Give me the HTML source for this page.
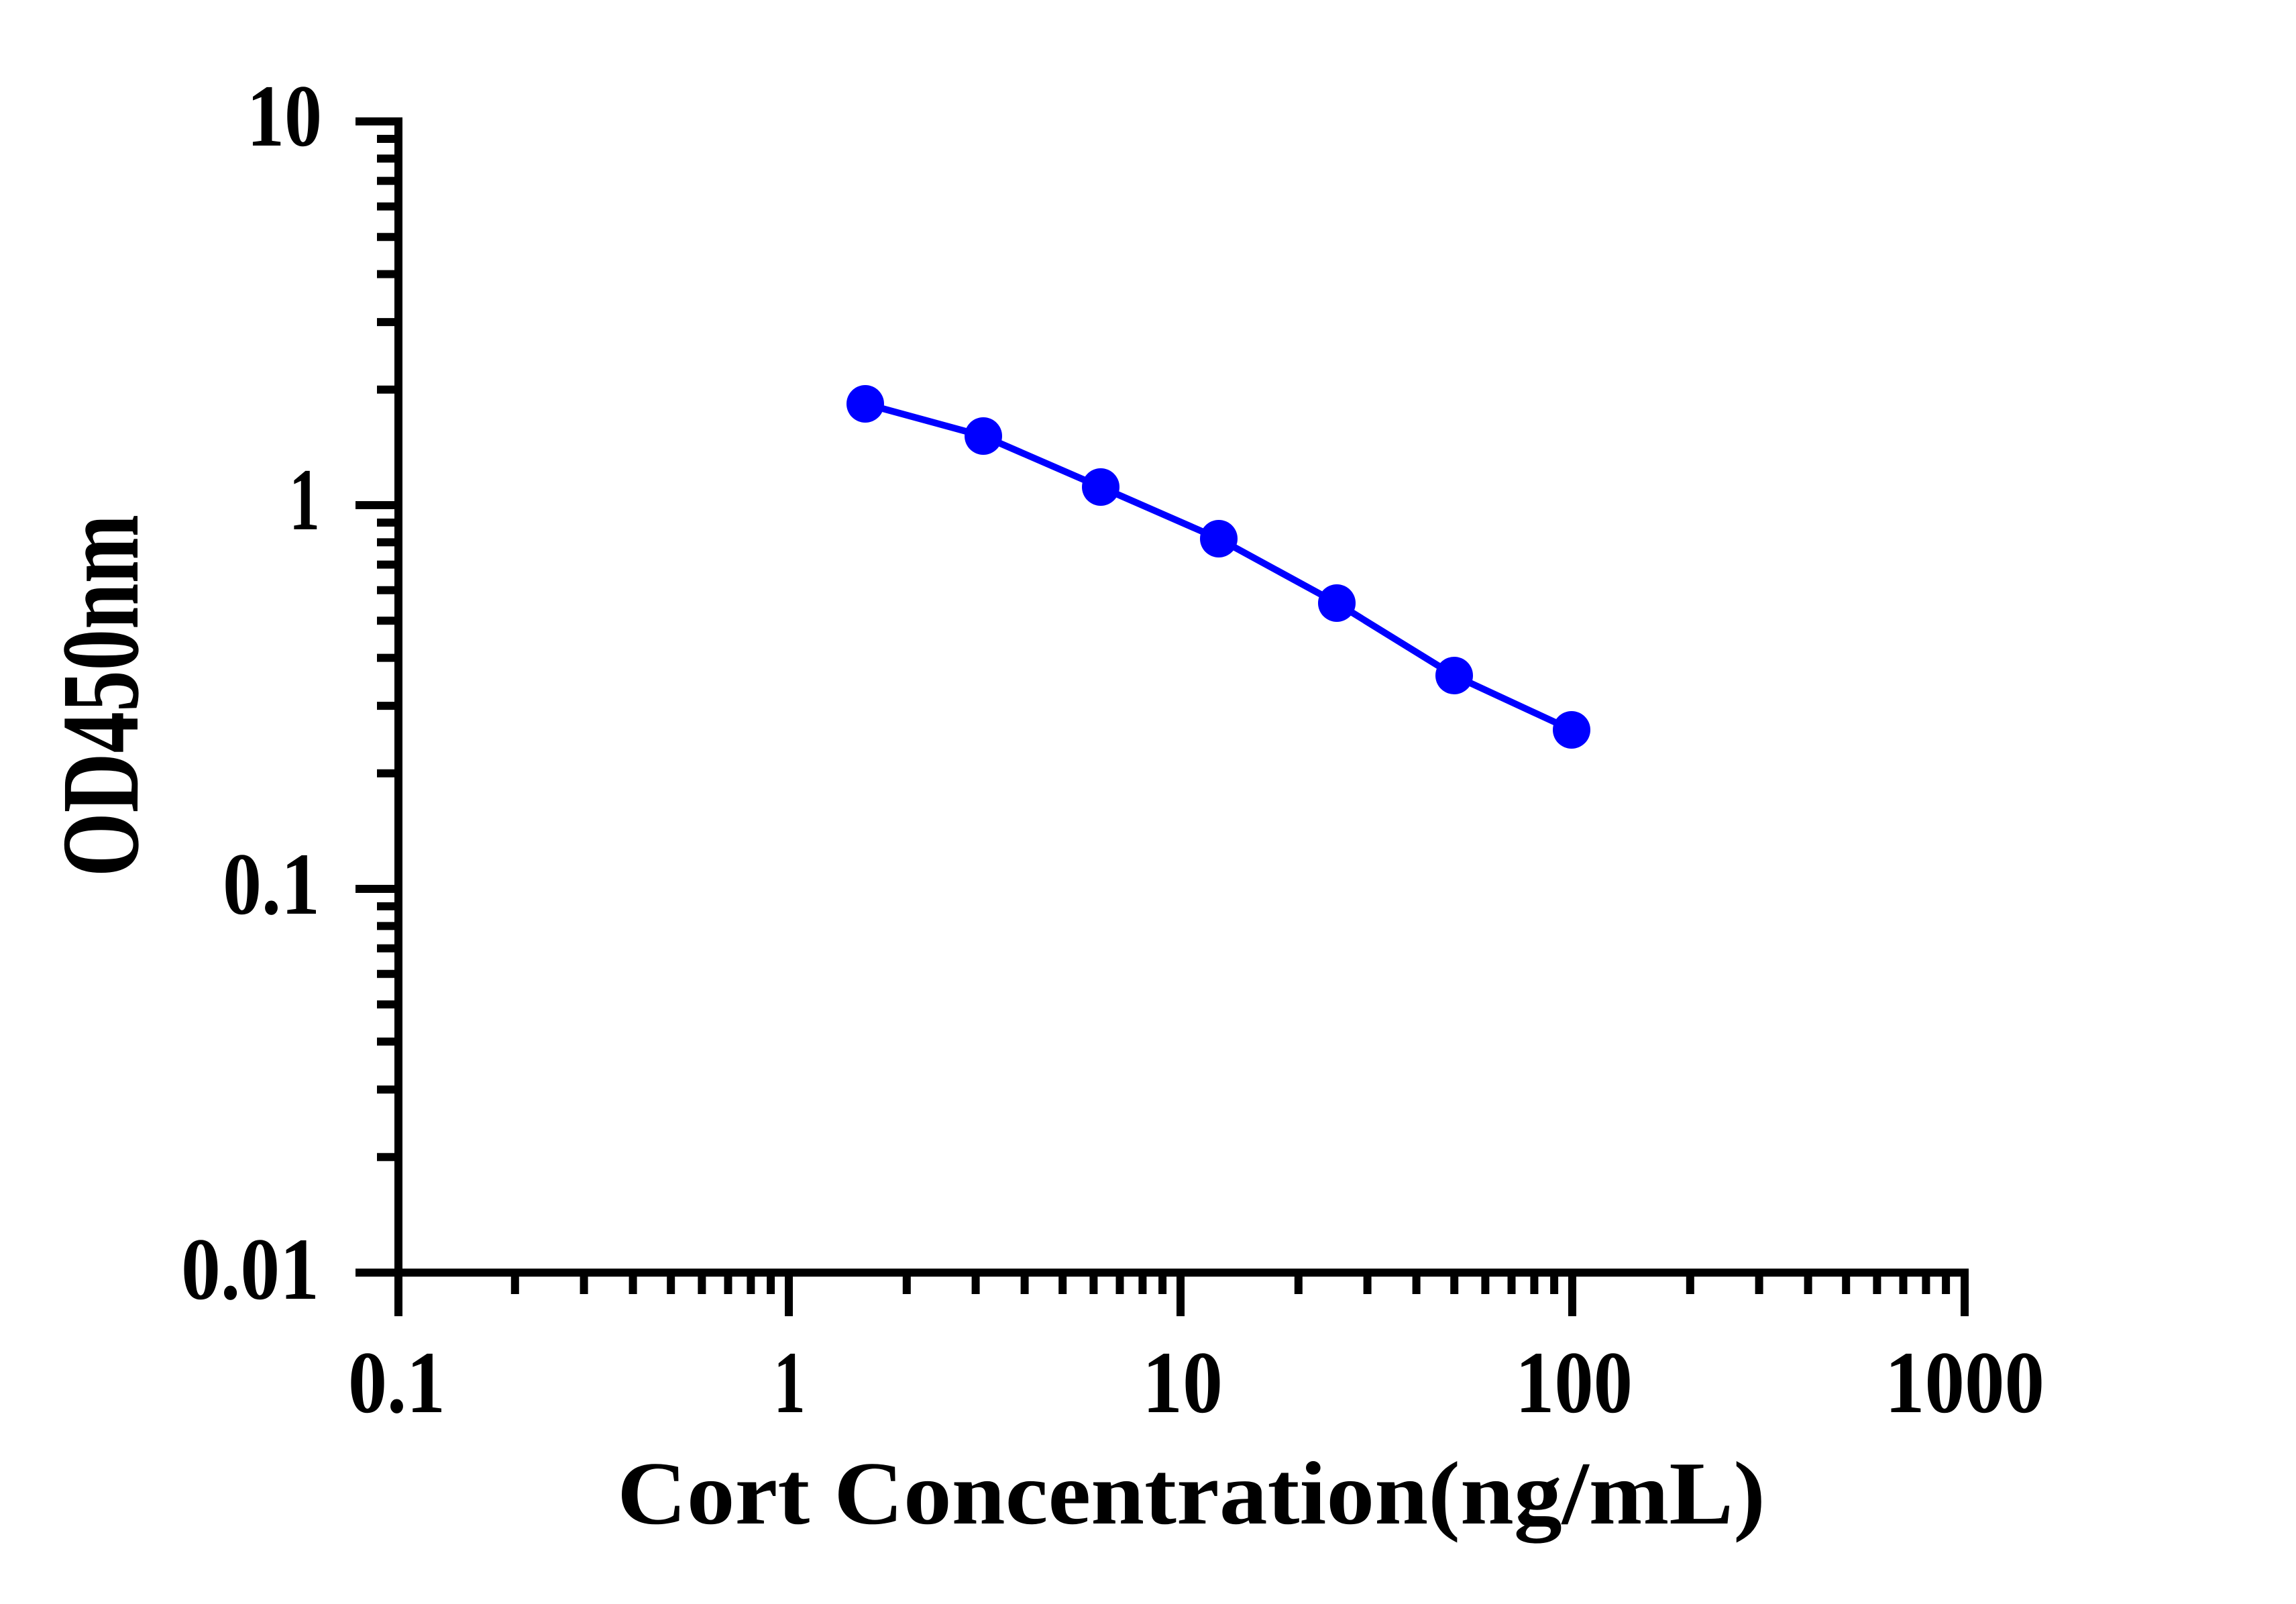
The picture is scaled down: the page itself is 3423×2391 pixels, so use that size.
<!DOCTYPE html>
<html><head><meta charset="utf-8"><style>html,body{margin:0;padding:0;background:#fff}svg{display:block}</style></head>
<body>
<svg xmlns="http://www.w3.org/2000/svg" width="3423" height="2391" viewBox="0 0 3423 2391">
<rect width="3423" height="2391" fill="#fff"/>
<g stroke="#000" stroke-width="12" fill="none">
<line x1="594" y1="175" x2="594" y2="1962"/>
<line x1="530" y1="1897" x2="2935" y2="1897"/>
<path d="M530 181H594M530 753H594M530 1325H594
M562 580.8H594M562 480.1H594M562 408.6H594M562 353.2H594M562 307.8H594M562 269.6H594M562 236.4H594M562 207H594
M562 1152.8H594M562 1052.1H594M562 980.6H594M562 925.2H594M562 879.8H594M562 841.6H594M562 808.4H594M562 779H594
M562 1724.8H594M562 1624.1H594M562 1552.6H594M562 1497.2H594M562 1451.8H594M562 1413.6H594M562 1380.4H594M562 1351H594
M1176 1897V1962M1760 1897V1962M2344 1897V1962M2929 1897V1962
M767.8 1897V1929M870.6 1897V1929M943.6 1897V1929M1000.2 1897V1929M1046.4 1897V1929M1085.5 1897V1929M1119.4 1897V1929M1149.1 1897V1929
M1351.8 1897V1929M1454.6 1897V1929M1527.6 1897V1929M1584.2 1897V1929M1630.4 1897V1929M1669.5 1897V1929M1703.4 1897V1929M1733.1 1897V1929
M1935.8 1897V1929M2038.6 1897V1929M2111.6 1897V1929M2168.2 1897V1929M2214.4 1897V1929M2253.5 1897V1929M2287.4 1897V1929M2317.1 1897V1929
M2519.8 1897V1929M2622.6 1897V1929M2695.6 1897V1929M2752.2 1897V1929M2798.4 1897V1929M2837.5 1897V1929M2871.4 1897V1929M2901.1 1897V1929"/>
</g>
<g font-family="Liberation Serif, serif" font-weight="bold" fill="#000" font-size="132">
<text x="480" y="217" text-anchor="end" textLength="112" lengthAdjust="spacingAndGlyphs">10</text>
<text x="477" y="789" text-anchor="end" textLength="46" lengthAdjust="spacingAndGlyphs">1</text>
<text x="477" y="1362" text-anchor="end" textLength="145" lengthAdjust="spacingAndGlyphs">0.1</text>
<text x="476" y="1936" text-anchor="end" textLength="206" lengthAdjust="spacingAndGlyphs">0.01</text>
<text x="519" y="2105" textLength="145" lengthAdjust="spacingAndGlyphs">0.1</text>
<text x="1153" y="2105" textLength="48" lengthAdjust="spacingAndGlyphs">1</text>
<text x="1703" y="2105" textLength="120" lengthAdjust="spacingAndGlyphs">10</text>
<text x="2259" y="2105" textLength="175" lengthAdjust="spacingAndGlyphs">100</text>
<text x="2810" y="2105" textLength="238" lengthAdjust="spacingAndGlyphs">1000</text>
<text x="920" y="2271" font-size="134" textLength="1712" lengthAdjust="spacingAndGlyphs">Cort Concentration(ng/mL)</text>
<text transform="translate(205,1307) rotate(-90)" x="0" y="0" font-size="165" textLength="540" lengthAdjust="spacingAndGlyphs">OD450nm</text>
</g>
<polyline points="1290,602 1466,650 1641,726 1817,803 1993,899 2168,1007 2343,1088" fill="none" stroke="#0000ff" stroke-width="10"/>
<g fill="#0000ff">
<circle cx="1290" cy="602" r="28"/><circle cx="1466" cy="650" r="28"/><circle cx="1641" cy="726" r="28"/>
<circle cx="1817" cy="803" r="28"/><circle cx="1993" cy="899" r="28"/><circle cx="2168" cy="1007" r="28"/>
<circle cx="2343" cy="1088" r="28"/>
</g>
</svg>
</body></html>
